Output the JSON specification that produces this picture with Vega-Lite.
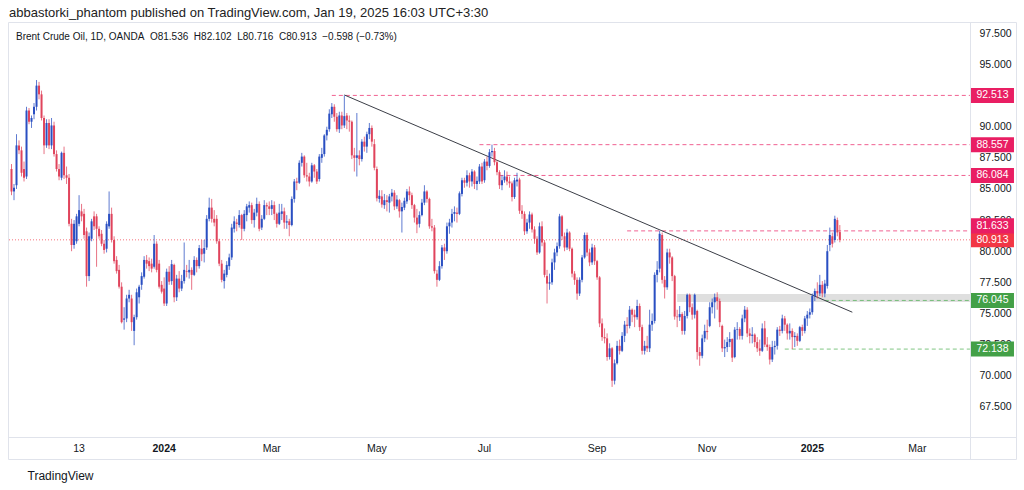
{
"$schema": "https://vega.github.io/schema/vega-lite/v6.json",
"width": 1008, "height": 437,
"autosize": "none",
"padding": {"left": 8, "top": 22, "right": 8, "bottom": 31},
"background": "#ffffff",
"title": {"text": "abbastorki_phantom published on TradingView.com, Jan 19, 2025 16:03 UTC+3:30", "subtitle": "\u2800Brent Crude Oil, 1D, OANDA\u00a0\u00a0O81.536\u00a0\u00a0H82.102\u00a0\u00a0L80.716\u00a0\u00a0C80.913\u00a0\u00a0\u22120.598 (\u22120.73%)", "anchor": "start", "frame": "group", "offset": -20, "dx": 1, "fontSize": 13, "fontWeight": "normal", "color": "#222222", "font": "Liberation Sans", "subtitleFontSize": 10, "subtitleColor": "#131722", "subtitleFont": "Liberation Sans", "subtitlePadding": 12},
"config": {"view": {"stroke": "#e0e3eb", "strokeWidth": 1}, "axis": {"labelFont": "Liberation Sans", "titleFont": "Liberation Sans", "labelOverlap": false}},
"datasets": {
"zone": [{"d0": "2024-10-16", "d1": "2025-04-01", "p": 76.25}],
"trend": [{"d": "2024-04-12", "p": 92.55}, {"d": "2025-01-24", "p": 75.1}],
"levels": [
{"p": 92.513, "d0": "2024-04-05", "kind": "res"},
{"p": 88.557, "d0": "2024-06-27", "kind": "res"},
{"p": 86.084, "d0": "2024-07-09", "kind": "res"},
{"p": 81.633, "d0": "2024-09-18", "kind": "res"},
{"p": 80.913, "d0": "2023-10-04", "kind": "last"},
{"p": 76.045, "d0": "2025-01-09", "kind": "sup"},
{"p": 72.138, "d0": "2024-12-16", "kind": "sup"}
],
"bars": [
{"d":"2023-10-05","o":86.6,"h":87.0,"l":84.5,"c":84.8},
{"d":"2023-10-06","o":84.8,"h":85.4,"l":84.1,"c":85.1},
{"d":"2023-10-09","o":85.3,"h":89.4,"l":85.0,"c":88.5},
{"d":"2023-10-10","o":88.5,"h":88.9,"l":87.8,"c":88.1},
{"d":"2023-10-11","o":88.1,"h":88.4,"l":86.0,"c":86.3},
{"d":"2023-10-12","o":86.6,"h":87.2,"l":85.6,"c":85.9},
{"d":"2023-10-13","o":86.0,"h":91.6,"l":85.8,"c":91.3},
{"d":"2023-10-16","o":91.3,"h":91.5,"l":90.2,"c":90.4},
{"d":"2023-10-17","o":90.4,"h":90.9,"l":89.9,"c":90.7},
{"d":"2023-10-18","o":91.0,"h":91.9,"l":90.6,"c":91.6},
{"d":"2023-10-19","o":91.6,"h":93.75,"l":91.3,"c":93.3},
{"d":"2023-10-20","o":93.3,"h":93.6,"l":92.2,"c":92.6},
{"d":"2023-10-23","o":92.6,"h":92.9,"l":90.5,"c":90.7},
{"d":"2023-10-24","o":90.7,"h":90.9,"l":87.8,"c":88.5},
{"d":"2023-10-25","o":88.5,"h":90.6,"l":88.3,"c":90.3},
{"d":"2023-10-26","o":90.3,"h":90.6,"l":88.2,"c":88.5},
{"d":"2023-10-27","o":88.5,"h":90.7,"l":88.2,"c":90.1},
{"d":"2023-10-30","o":90.1,"h":90.4,"l":87.6,"c":87.8},
{"d":"2023-10-31","o":87.8,"h":88.1,"l":86.4,"c":86.6},
{"d":"2023-11-01","o":86.6,"h":87.0,"l":85.7,"c":86.0},
{"d":"2023-11-02","o":85.9,"h":88.0,"l":85.7,"c":87.9},
{"d":"2023-11-03","o":87.9,"h":88.4,"l":85.8,"c":86.1},
{"d":"2023-11-06","o":86.1,"h":86.8,"l":85.4,"c":85.9},
{"d":"2023-11-07","o":85.9,"h":86.2,"l":82.0,"c":82.2},
{"d":"2023-11-08","o":82.2,"h":82.6,"l":80.0,"c":80.5},
{"d":"2023-11-09","o":80.5,"h":82.5,"l":80.2,"c":82.2},
{"d":"2023-11-10","o":80.8,"h":83.0,"l":80.6,"c":82.8},
{"d":"2023-11-13","o":82.2,"h":84.5,"l":82.0,"c":83.3},
{"d":"2023-11-14","o":83.2,"h":83.8,"l":82.4,"c":82.8},
{"d":"2023-11-15","o":83.0,"h":83.4,"l":81.0,"c":81.3},
{"d":"2023-11-16","o":81.6,"h":81.9,"l":77.15,"c":78.0},
{"d":"2023-11-17","o":78.0,"h":81.5,"l":77.6,"c":81.2},
{"d":"2023-11-20","o":81.0,"h":82.6,"l":80.8,"c":82.4},
{"d":"2023-11-21","o":82.8,"h":83.2,"l":81.7,"c":82.0},
{"d":"2023-11-22","o":82.8,"h":83.0,"l":78.75,"c":81.8},
{"d":"2023-11-23","o":81.8,"h":82.0,"l":81.0,"c":81.2},
{"d":"2023-11-24","o":81.4,"h":81.7,"l":80.4,"c":80.6},
{"d":"2023-11-27","o":80.6,"h":80.9,"l":79.8,"c":80.1},
{"d":"2023-11-28","o":80.2,"h":82.4,"l":79.9,"c":82.2},
{"d":"2023-11-29","o":82.0,"h":84.8,"l":81.8,"c":83.0},
{"d":"2023-11-30","o":83.0,"h":83.5,"l":80.7,"c":80.9},
{"d":"2023-12-01","o":80.9,"h":81.2,"l":79.0,"c":79.2},
{"d":"2023-12-04","o":79.3,"h":79.6,"l":78.2,"c":78.4},
{"d":"2023-12-05","o":78.5,"h":78.9,"l":77.0,"c":77.15},
{"d":"2023-12-06","o":77.15,"h":77.5,"l":74.2,"c":74.3},
{"d":"2023-12-07","o":74.5,"h":75.5,"l":73.7,"c":74.6},
{"d":"2023-12-08","o":74.6,"h":76.5,"l":74.3,"c":76.2},
{"d":"2023-12-11","o":76.2,"h":76.9,"l":75.9,"c":76.5},
{"d":"2023-12-12","o":76.2,"h":76.5,"l":73.6,"c":74.3},
{"d":"2023-12-13","o":73.6,"h":74.9,"l":72.45,"c":74.7},
{"d":"2023-12-14","o":74.7,"h":77.0,"l":74.5,"c":76.7},
{"d":"2023-12-15","o":76.3,"h":77.3,"l":75.8,"c":77.15},
{"d":"2023-12-18","o":77.3,"h":78.3,"l":76.9,"c":78.0},
{"d":"2023-12-19","o":77.95,"h":79.6,"l":77.8,"c":79.3},
{"d":"2023-12-20","o":79.3,"h":79.7,"l":78.6,"c":79.0},
{"d":"2023-12-21","o":79.2,"h":79.5,"l":78.4,"c":78.8},
{"d":"2023-12-22","o":79.0,"h":79.4,"l":78.3,"c":78.6},
{"d":"2023-12-26","o":78.75,"h":81.3,"l":78.6,"c":80.6},
{"d":"2023-12-27","o":80.6,"h":80.8,"l":78.3,"c":78.5},
{"d":"2023-12-28","o":79.0,"h":79.3,"l":77.0,"c":77.15},
{"d":"2023-12-29","o":77.3,"h":77.6,"l":76.6,"c":76.75},
{"d":"2024-01-02","o":77.0,"h":77.9,"l":75.6,"c":75.8},
{"d":"2024-01-03","o":75.8,"h":78.6,"l":75.6,"c":78.35},
{"d":"2024-01-04","o":78.35,"h":78.8,"l":77.3,"c":77.55},
{"d":"2024-01-05","o":77.6,"h":79.3,"l":77.3,"c":78.96},
{"d":"2024-01-08","o":78.9,"h":79.0,"l":75.9,"c":76.3},
{"d":"2024-01-09","o":76.3,"h":78.1,"l":76.0,"c":77.8},
{"d":"2024-01-10","o":77.8,"h":78.4,"l":76.7,"c":77.0},
{"d":"2024-01-11","o":77.0,"h":78.1,"l":76.8,"c":77.6},
{"d":"2024-01-12","o":77.6,"h":80.7,"l":77.4,"c":78.5},
{"d":"2024-01-15","o":78.4,"h":78.9,"l":77.9,"c":78.35},
{"d":"2024-01-16","o":78.3,"h":79.3,"l":77.8,"c":78.5},
{"d":"2024-01-17","o":78.5,"h":78.7,"l":76.9,"c":78.1},
{"d":"2024-01-18","o":78.1,"h":79.6,"l":78.0,"c":79.3},
{"d":"2024-01-19","o":79.3,"h":79.5,"l":78.3,"c":78.8},
{"d":"2024-01-22","o":78.8,"h":80.5,"l":78.6,"c":80.25},
{"d":"2024-01-23","o":80.2,"h":80.9,"l":79.2,"c":79.75},
{"d":"2024-01-24","o":79.8,"h":80.9,"l":79.1,"c":80.25},
{"d":"2024-01-25","o":80.3,"h":82.9,"l":80.1,"c":82.6},
{"d":"2024-01-26","o":82.6,"h":84.3,"l":82.4,"c":83.5},
{"d":"2024-01-29","o":83.5,"h":84.2,"l":82.3,"c":82.6},
{"d":"2024-01-30","o":82.6,"h":83.3,"l":82.0,"c":82.3},
{"d":"2024-01-31","o":82.6,"h":82.9,"l":80.6,"c":80.8},
{"d":"2024-02-01","o":80.8,"h":81.0,"l":78.8,"c":79.0},
{"d":"2024-02-02","o":79.0,"h":79.3,"l":77.5,"c":77.7},
{"d":"2024-02-05","o":77.6,"h":78.5,"l":77.0,"c":78.2},
{"d":"2024-02-06","o":78.1,"h":79.2,"l":77.9,"c":78.9},
{"d":"2024-02-07","o":78.8,"h":79.8,"l":78.5,"c":79.5},
{"d":"2024-02-08","o":79.5,"h":82.2,"l":79.3,"c":81.9},
{"d":"2024-02-09","o":81.8,"h":82.8,"l":81.5,"c":82.4},
{"d":"2024-02-12","o":82.3,"h":82.6,"l":81.6,"c":82.2},
{"d":"2024-02-13","o":82.1,"h":83.3,"l":81.9,"c":82.9},
{"d":"2024-02-14","o":82.9,"h":83.0,"l":80.9,"c":81.8},
{"d":"2024-02-15","o":81.8,"h":83.3,"l":81.6,"c":83.0},
{"d":"2024-02-16","o":82.9,"h":83.8,"l":82.4,"c":83.6},
{"d":"2024-02-19","o":83.5,"h":84.0,"l":83.1,"c":83.7},
{"d":"2024-02-20","o":83.7,"h":83.9,"l":82.2,"c":82.5},
{"d":"2024-02-21","o":82.5,"h":83.4,"l":81.9,"c":83.1},
{"d":"2024-02-22","o":83.1,"h":84.3,"l":82.8,"c":83.8},
{"d":"2024-02-23","o":83.8,"h":84.0,"l":81.6,"c":81.8},
{"d":"2024-02-26","o":81.9,"h":82.9,"l":81.7,"c":82.6},
{"d":"2024-02-27","o":82.6,"h":84.1,"l":82.5,"c":83.7},
{"d":"2024-02-28","o":83.7,"h":83.9,"l":82.9,"c":83.6},
{"d":"2024-02-29","o":83.6,"h":84.0,"l":82.9,"c":83.4},
{"d":"2024-03-01","o":83.4,"h":84.1,"l":82.9,"c":83.7},
{"d":"2024-03-04","o":83.7,"h":84.0,"l":82.5,"c":83.0},
{"d":"2024-03-05","o":83.0,"h":83.1,"l":81.9,"c":82.2},
{"d":"2024-03-06","o":82.2,"h":83.8,"l":82.1,"c":83.1},
{"d":"2024-03-07","o":83.0,"h":83.8,"l":82.5,"c":83.2},
{"d":"2024-03-08","o":83.2,"h":83.5,"l":81.8,"c":82.3},
{"d":"2024-03-11","o":82.3,"h":82.9,"l":81.8,"c":82.4},
{"d":"2024-03-12","o":82.4,"h":82.6,"l":81.2,"c":82.1},
{"d":"2024-03-13","o":82.1,"h":84.4,"l":82.0,"c":84.2},
{"d":"2024-03-14","o":84.2,"h":85.8,"l":83.9,"c":85.6},
{"d":"2024-03-15","o":85.6,"h":85.9,"l":84.9,"c":85.5},
{"d":"2024-03-18","o":85.5,"h":87.3,"l":85.4,"c":87.1},
{"d":"2024-03-19","o":87.1,"h":87.9,"l":86.8,"c":87.6},
{"d":"2024-03-20","o":87.6,"h":87.7,"l":85.9,"c":86.1},
{"d":"2024-03-21","o":86.1,"h":87.1,"l":85.6,"c":86.0},
{"d":"2024-03-22","o":86.0,"h":86.3,"l":85.2,"c":85.6},
{"d":"2024-03-25","o":85.6,"h":87.1,"l":85.5,"c":86.9},
{"d":"2024-03-26","o":86.9,"h":87.0,"l":85.9,"c":86.4},
{"d":"2024-03-27","o":86.4,"h":86.6,"l":85.4,"c":85.6},
{"d":"2024-03-28","o":85.8,"h":87.8,"l":85.6,"c":87.6},
{"d":"2024-04-01","o":87.5,"h":88.3,"l":87.1,"c":87.8},
{"d":"2024-04-02","o":87.8,"h":89.4,"l":87.6,"c":89.3},
{"d":"2024-04-03","o":89.3,"h":90.0,"l":88.9,"c":89.75},
{"d":"2024-04-04","o":89.8,"h":91.4,"l":89.6,"c":91.05},
{"d":"2024-04-05","o":91.0,"h":91.9,"l":90.7,"c":91.6},
{"d":"2024-04-08","o":91.6,"h":91.8,"l":90.4,"c":90.8},
{"d":"2024-04-09","o":90.8,"h":91.1,"l":89.6,"c":89.8},
{"d":"2024-04-10","o":89.8,"h":91.2,"l":89.5,"c":90.9},
{"d":"2024-04-11","o":90.9,"h":91.2,"l":89.8,"c":90.1},
{"d":"2024-04-12","o":90.1,"h":92.513,"l":89.9,"c":90.85},
{"d":"2024-04-15","o":90.9,"h":91.1,"l":89.8,"c":90.5},
{"d":"2024-04-16","o":90.5,"h":90.9,"l":89.6,"c":90.4},
{"d":"2024-04-17","o":90.4,"h":90.5,"l":87.4,"c":87.7},
{"d":"2024-04-18","o":87.7,"h":88.3,"l":86.4,"c":87.5},
{"d":"2024-04-19","o":87.5,"h":91.1,"l":86.0,"c":87.7},
{"d":"2024-04-22","o":87.7,"h":88.1,"l":86.9,"c":87.4},
{"d":"2024-04-23","o":87.4,"h":89.0,"l":87.2,"c":88.8},
{"d":"2024-04-24","o":88.8,"h":89.2,"l":88.0,"c":88.4},
{"d":"2024-04-25","o":88.4,"h":89.6,"l":87.9,"c":89.4},
{"d":"2024-04-26","o":89.4,"h":90.3,"l":89.0,"c":89.9},
{"d":"2024-04-29","o":89.9,"h":90.1,"l":88.4,"c":88.8},
{"d":"2024-04-30","o":88.6,"h":89.0,"l":86.5,"c":86.7},
{"d":"2024-05-01","o":86.6,"h":86.8,"l":84.0,"c":84.25},
{"d":"2024-05-02","o":84.2,"h":84.9,"l":83.9,"c":84.45},
{"d":"2024-05-03","o":84.4,"h":84.9,"l":83.5,"c":83.75},
{"d":"2024-05-06","o":83.7,"h":84.6,"l":83.4,"c":84.1},
{"d":"2024-05-07","o":84.1,"h":84.5,"l":83.2,"c":83.95},
{"d":"2024-05-08","o":83.9,"h":84.6,"l":83.1,"c":84.4},
{"d":"2024-05-09","o":84.4,"h":85.0,"l":84.0,"c":84.7},
{"d":"2024-05-10","o":84.7,"h":84.9,"l":83.3,"c":83.6},
{"d":"2024-05-13","o":83.6,"h":84.5,"l":83.4,"c":84.15},
{"d":"2024-05-14","o":84.1,"h":84.2,"l":82.7,"c":83.2},
{"d":"2024-05-15","o":83.2,"h":83.9,"l":81.5,"c":83.55},
{"d":"2024-05-16","o":83.5,"h":84.3,"l":83.3,"c":84.05},
{"d":"2024-05-17","o":84.0,"h":85.0,"l":83.8,"c":84.8},
{"d":"2024-05-20","o":84.8,"h":85.2,"l":84.1,"c":84.5},
{"d":"2024-05-21","o":84.5,"h":84.7,"l":83.4,"c":83.7},
{"d":"2024-05-22","o":83.7,"h":83.8,"l":82.3,"c":82.7},
{"d":"2024-05-23","o":82.7,"h":83.4,"l":81.45,"c":82.15},
{"d":"2024-05-24","o":82.2,"h":83.2,"l":81.9,"c":82.9},
{"d":"2024-05-27","o":82.9,"h":84.2,"l":82.8,"c":83.9},
{"d":"2024-05-28","o":83.9,"h":85.3,"l":83.7,"c":84.8},
{"d":"2024-05-29","o":84.8,"h":84.9,"l":83.9,"c":84.2},
{"d":"2024-05-30","o":84.2,"h":84.3,"l":81.8,"c":82.0},
{"d":"2024-05-31","o":82.0,"h":82.6,"l":81.6,"c":81.9},
{"d":"2024-06-03","o":81.9,"h":82.1,"l":78.2,"c":78.4},
{"d":"2024-06-04","o":78.2,"h":78.5,"l":77.15,"c":77.7},
{"d":"2024-06-05","o":77.7,"h":79.2,"l":77.6,"c":78.8},
{"d":"2024-06-06","o":78.8,"h":80.5,"l":78.6,"c":80.3},
{"d":"2024-06-07","o":80.3,"h":80.6,"l":79.3,"c":80.0},
{"d":"2024-06-10","o":80.0,"h":82.3,"l":79.8,"c":82.0},
{"d":"2024-06-11","o":82.0,"h":82.6,"l":81.4,"c":82.3},
{"d":"2024-06-12","o":82.3,"h":83.4,"l":81.9,"c":83.0},
{"d":"2024-06-13","o":83.0,"h":83.6,"l":82.4,"c":83.15},
{"d":"2024-06-14","o":83.1,"h":83.5,"l":82.3,"c":83.0},
{"d":"2024-06-17","o":83.0,"h":84.8,"l":82.9,"c":84.65},
{"d":"2024-06-18","o":84.6,"h":85.9,"l":84.4,"c":85.7},
{"d":"2024-06-19","o":85.7,"h":85.9,"l":85.1,"c":85.5},
{"d":"2024-06-20","o":85.5,"h":86.5,"l":85.2,"c":86.1},
{"d":"2024-06-21","o":86.1,"h":86.3,"l":85.1,"c":85.6},
{"d":"2024-06-24","o":85.6,"h":86.6,"l":85.2,"c":86.4},
{"d":"2024-06-25","o":86.4,"h":86.5,"l":85.0,"c":85.4},
{"d":"2024-06-26","o":85.4,"h":86.0,"l":84.9,"c":85.65},
{"d":"2024-06-27","o":85.6,"h":87.0,"l":85.4,"c":86.8},
{"d":"2024-06-28","o":86.8,"h":87.1,"l":85.4,"c":85.6},
{"d":"2024-07-01","o":85.7,"h":87.4,"l":85.5,"c":87.2},
{"d":"2024-07-02","o":87.2,"h":87.6,"l":86.5,"c":86.85},
{"d":"2024-07-03","o":86.85,"h":88.2,"l":86.7,"c":87.95},
{"d":"2024-07-04","o":87.95,"h":88.557,"l":87.6,"c":88.05},
{"d":"2024-07-05","o":88.05,"h":88.3,"l":86.9,"c":87.15},
{"d":"2024-07-08","o":87.15,"h":87.3,"l":86.1,"c":86.35},
{"d":"2024-07-09","o":86.35,"h":86.5,"l":85.0,"c":85.3},
{"d":"2024-07-10","o":85.3,"h":86.1,"l":84.9,"c":85.7},
{"d":"2024-07-11","o":85.7,"h":86.5,"l":85.5,"c":86.0},
{"d":"2024-07-12","o":86.0,"h":86.4,"l":85.3,"c":85.6},
{"d":"2024-07-15","o":85.6,"h":86.0,"l":85.1,"c":85.45},
{"d":"2024-07-16","o":85.45,"h":85.6,"l":84.0,"c":84.35},
{"d":"2024-07-17","o":84.35,"h":85.9,"l":84.2,"c":85.7},
{"d":"2024-07-18","o":85.6,"h":86.3,"l":85.2,"c":85.75},
{"d":"2024-07-19","o":85.75,"h":85.9,"l":83.0,"c":83.25},
{"d":"2024-07-22","o":83.25,"h":83.7,"l":82.6,"c":83.0},
{"d":"2024-07-23","o":83.0,"h":83.2,"l":81.3,"c":81.6},
{"d":"2024-07-24","o":81.6,"h":82.6,"l":81.4,"c":82.3},
{"d":"2024-07-25","o":82.3,"h":83.2,"l":81.8,"c":82.95},
{"d":"2024-07-26","o":82.95,"h":83.1,"l":81.5,"c":81.75},
{"d":"2024-07-29","o":81.75,"h":82.0,"l":80.6,"c":81.0},
{"d":"2024-07-30","o":81.0,"h":81.2,"l":79.7,"c":79.9},
{"d":"2024-07-31","o":79.9,"h":82.3,"l":79.8,"c":82.0},
{"d":"2024-08-01","o":82.0,"h":82.4,"l":80.4,"c":80.7},
{"d":"2024-08-02","o":80.7,"h":80.9,"l":77.9,"c":78.1},
{"d":"2024-08-05","o":78.0,"h":78.5,"l":75.8,"c":77.4},
{"d":"2024-08-06","o":77.4,"h":78.2,"l":76.9,"c":77.5},
{"d":"2024-08-07","o":77.5,"h":79.4,"l":77.3,"c":79.1},
{"d":"2024-08-08","o":79.1,"h":80.2,"l":78.5,"c":79.9},
{"d":"2024-08-09","o":79.9,"h":80.7,"l":79.6,"c":80.4},
{"d":"2024-08-12","o":80.4,"h":83.0,"l":80.2,"c":82.8},
{"d":"2024-08-13","o":82.8,"h":82.9,"l":80.9,"c":81.2},
{"d":"2024-08-14","o":81.2,"h":81.5,"l":80.0,"c":80.3},
{"d":"2024-08-15","o":80.3,"h":81.8,"l":80.1,"c":81.5},
{"d":"2024-08-16","o":81.5,"h":81.6,"l":80.0,"c":80.2},
{"d":"2024-08-19","o":80.2,"h":80.3,"l":77.9,"c":78.2},
{"d":"2024-08-20","o":78.2,"h":78.4,"l":77.3,"c":77.7},
{"d":"2024-08-21","o":77.7,"h":77.9,"l":76.1,"c":76.6},
{"d":"2024-08-22","o":76.6,"h":77.9,"l":76.4,"c":77.7},
{"d":"2024-08-23","o":77.7,"h":79.7,"l":77.5,"c":79.5},
{"d":"2024-08-26","o":79.5,"h":81.5,"l":79.4,"c":81.3},
{"d":"2024-08-27","o":81.3,"h":81.5,"l":79.6,"c":79.9},
{"d":"2024-08-28","o":79.9,"h":80.2,"l":78.8,"c":79.1},
{"d":"2024-08-29","o":79.1,"h":80.6,"l":78.9,"c":80.3},
{"d":"2024-08-30","o":80.3,"h":80.5,"l":78.9,"c":79.2},
{"d":"2024-09-02","o":79.2,"h":79.3,"l":77.7,"c":77.9},
{"d":"2024-09-03","o":77.9,"h":78.0,"l":73.9,"c":74.2},
{"d":"2024-09-04","o":74.2,"h":74.6,"l":72.8,"c":73.1},
{"d":"2024-09-05","o":73.1,"h":73.8,"l":72.6,"c":73.0},
{"d":"2024-09-06","o":73.0,"h":73.4,"l":71.2,"c":71.5},
{"d":"2024-09-09","o":71.5,"h":72.6,"l":71.3,"c":72.2},
{"d":"2024-09-10","o":72.2,"h":72.3,"l":69.1,"c":69.6},
{"d":"2024-09-11","o":69.6,"h":71.3,"l":69.3,"c":71.0},
{"d":"2024-09-12","o":71.0,"h":72.8,"l":70.9,"c":72.4},
{"d":"2024-09-13","o":72.4,"h":72.9,"l":71.7,"c":72.0},
{"d":"2024-09-16","o":72.0,"h":73.5,"l":71.9,"c":73.2},
{"d":"2024-09-17","o":73.2,"h":74.4,"l":72.7,"c":74.1},
{"d":"2024-09-18","o":74.1,"h":74.7,"l":73.4,"c":74.0},
{"d":"2024-09-19","o":74.0,"h":75.6,"l":73.8,"c":75.3},
{"d":"2024-09-20","o":75.3,"h":75.4,"l":74.3,"c":74.9},
{"d":"2024-09-23","o":74.9,"h":75.3,"l":73.9,"c":74.7},
{"d":"2024-09-24","o":74.7,"h":76.1,"l":74.5,"c":75.6},
{"d":"2024-09-25","o":75.6,"h":75.8,"l":73.6,"c":73.9},
{"d":"2024-09-26","o":73.9,"h":74.1,"l":71.7,"c":72.0},
{"d":"2024-09-27","o":72.0,"h":72.8,"l":71.7,"c":72.4},
{"d":"2024-09-30","o":72.4,"h":73.2,"l":71.9,"c":72.2},
{"d":"2024-10-01","o":72.2,"h":75.3,"l":71.9,"c":74.1},
{"d":"2024-10-02","o":74.1,"h":75.0,"l":73.6,"c":74.4},
{"d":"2024-10-03","o":74.4,"h":78.3,"l":74.2,"c":78.1},
{"d":"2024-10-04","o":78.1,"h":79.2,"l":77.5,"c":78.5},
{"d":"2024-10-07","o":78.6,"h":81.633,"l":78.3,"c":81.4},
{"d":"2024-10-08","o":81.3,"h":81.5,"l":77.4,"c":77.7},
{"d":"2024-10-09","o":77.7,"h":78.0,"l":76.2,"c":77.1},
{"d":"2024-10-10","o":77.1,"h":80.2,"l":76.9,"c":79.9},
{"d":"2024-10-11","o":79.9,"h":80.2,"l":79.0,"c":79.5},
{"d":"2024-10-14","o":79.5,"h":79.6,"l":77.6,"c":78.0},
{"d":"2024-10-15","o":78.0,"h":78.1,"l":74.5,"c":74.75},
{"d":"2024-10-16","o":74.75,"h":75.3,"l":73.9,"c":74.7},
{"d":"2024-10-17","o":74.7,"h":75.6,"l":74.4,"c":74.95},
{"d":"2024-10-18","o":74.95,"h":75.1,"l":73.3,"c":73.6},
{"d":"2024-10-21","o":73.6,"h":75.2,"l":73.3,"c":74.8},
{"d":"2024-10-22","o":74.8,"h":76.6,"l":74.6,"c":76.5},
{"d":"2024-10-23","o":76.5,"h":76.6,"l":75.1,"c":75.5},
{"d":"2024-10-24","o":75.5,"h":75.8,"l":74.5,"c":74.9},
{"d":"2024-10-25","o":74.9,"h":76.6,"l":74.6,"c":76.5},
{"d":"2024-10-28","o":75.2,"h":75.3,"l":71.3,"c":71.9},
{"d":"2024-10-29","o":71.9,"h":72.3,"l":70.8,"c":71.6},
{"d":"2024-10-30","o":71.6,"h":73.3,"l":71.4,"c":73.0},
{"d":"2024-10-31","o":73.0,"h":74.1,"l":72.7,"c":73.6},
{"d":"2024-11-01","o":73.6,"h":74.5,"l":72.9,"c":73.5},
{"d":"2024-11-04","o":74.0,"h":75.9,"l":73.9,"c":75.5},
{"d":"2024-11-05","o":75.5,"h":76.2,"l":75.0,"c":75.9},
{"d":"2024-11-06","o":75.9,"h":76.6,"l":74.6,"c":76.3},
{"d":"2024-11-07","o":76.3,"h":76.7,"l":75.3,"c":76.0},
{"d":"2024-11-08","o":76.0,"h":76.2,"l":73.9,"c":74.3},
{"d":"2024-11-11","o":74.0,"h":74.1,"l":71.9,"c":72.2},
{"d":"2024-11-12","o":72.2,"h":72.9,"l":71.5,"c":72.3},
{"d":"2024-11-13","o":72.3,"h":73.1,"l":71.9,"c":72.7},
{"d":"2024-11-14","o":72.7,"h":73.5,"l":72.3,"c":72.95},
{"d":"2024-11-15","o":72.95,"h":73.0,"l":71.1,"c":71.45},
{"d":"2024-11-18","o":71.5,"h":73.9,"l":71.4,"c":73.7},
{"d":"2024-11-19","o":73.7,"h":74.3,"l":72.9,"c":73.75},
{"d":"2024-11-20","o":73.75,"h":73.9,"l":72.9,"c":73.2},
{"d":"2024-11-21","o":73.2,"h":74.9,"l":72.9,"c":74.6},
{"d":"2024-11-22","o":74.6,"h":75.6,"l":74.3,"c":75.3},
{"d":"2024-11-25","o":75.3,"h":75.5,"l":73.1,"c":73.4},
{"d":"2024-11-26","o":73.4,"h":73.8,"l":72.6,"c":73.2},
{"d":"2024-11-27","o":73.2,"h":73.9,"l":72.6,"c":73.3},
{"d":"2024-11-28","o":73.3,"h":73.4,"l":72.3,"c":72.7},
{"d":"2024-11-29","o":72.7,"h":73.1,"l":71.9,"c":72.2},
{"d":"2024-12-02","o":72.2,"h":72.9,"l":71.6,"c":72.0},
{"d":"2024-12-03","o":72.0,"h":74.2,"l":71.9,"c":73.8},
{"d":"2024-12-04","o":73.8,"h":74.4,"l":72.3,"c":72.5},
{"d":"2024-12-05","o":72.5,"h":73.1,"l":72.0,"c":72.3},
{"d":"2024-12-06","o":72.3,"h":72.5,"l":70.9,"c":71.3},
{"d":"2024-12-09","o":71.3,"h":72.8,"l":71.1,"c":72.3},
{"d":"2024-12-10","o":72.3,"h":72.8,"l":71.7,"c":72.4},
{"d":"2024-12-11","o":72.4,"h":73.9,"l":72.1,"c":73.7},
{"d":"2024-12-12","o":73.7,"h":74.0,"l":73.2,"c":73.6},
{"d":"2024-12-13","o":73.6,"h":74.9,"l":73.4,"c":74.6},
{"d":"2024-12-16","o":74.6,"h":74.8,"l":73.6,"c":74.1},
{"d":"2024-12-17","o":74.1,"h":74.2,"l":72.9,"c":73.4},
{"d":"2024-12-18","o":73.4,"h":74.2,"l":72.9,"c":73.6},
{"d":"2024-12-19","o":73.6,"h":73.8,"l":72.138,"c":73.1},
{"d":"2024-12-20","o":73.1,"h":73.5,"l":72.3,"c":73.2},
{"d":"2024-12-23","o":73.2,"h":73.4,"l":72.4,"c":72.8},
{"d":"2024-12-24","o":72.8,"h":74.0,"l":72.7,"c":73.9},
{"d":"2024-12-26","o":73.9,"h":74.1,"l":73.2,"c":73.6},
{"d":"2024-12-27","o":73.6,"h":74.8,"l":73.4,"c":74.6},
{"d":"2024-12-30","o":74.6,"h":75.2,"l":74.0,"c":74.9},
{"d":"2024-12-31","o":74.9,"h":75.4,"l":74.6,"c":75.1},
{"d":"2025-01-02","o":75.1,"h":76.6,"l":74.9,"c":76.4},
{"d":"2025-01-03","o":76.4,"h":77.0,"l":76.0,"c":76.8},
{"d":"2025-01-06","o":76.8,"h":77.5,"l":76.2,"c":76.6},
{"d":"2025-01-07","o":76.6,"h":78.1,"l":76.4,"c":77.3},
{"d":"2025-01-08","o":77.3,"h":77.6,"l":76.3,"c":76.6},
{"d":"2025-01-09","o":76.6,"h":77.7,"l":76.3,"c":77.4},
{"d":"2025-01-10","o":77.2,"h":80.5,"l":77.0,"c":80.0},
{"d":"2025-01-13","o":80.5,"h":81.9,"l":80.0,"c":81.3},
{"d":"2025-01-14","o":81.2,"h":81.5,"l":80.3,"c":80.6},
{"d":"2025-01-15","o":80.9,"h":82.85,"l":80.7,"c":82.6},
{"d":"2025-01-16","o":82.5,"h":82.7,"l":81.2,"c":81.511},
{"d":"2025-01-17","o":81.536,"h":82.102,"l":80.716,"c":80.913}
]
},
"layer": [
{
"data": {"name": "zone"},
"mark": {"type": "rule", "strokeWidth": 8, "color": "#d4d4d4", "opacity": 0.75},
"encoding": {
"x": {"field": "d0", "type": "ordinal",
"scale": {"type": "band", "paddingInner": 0.2, "paddingOuter": 0, "domain": ["2023-10-04","2023-10-05","2023-10-06","2023-10-09","2023-10-10","2023-10-11","2023-10-12","2023-10-13","2023-10-16","2023-10-17","2023-10-18","2023-10-19","2023-10-20","2023-10-23","2023-10-24","2023-10-25","2023-10-26","2023-10-27","2023-10-30","2023-10-31","2023-11-01","2023-11-02","2023-11-03","2023-11-06","2023-11-07","2023-11-08","2023-11-09","2023-11-10","2023-11-13","2023-11-14","2023-11-15","2023-11-16","2023-11-17","2023-11-20","2023-11-21","2023-11-22","2023-11-23","2023-11-24","2023-11-27","2023-11-28","2023-11-29","2023-11-30","2023-12-01","2023-12-04","2023-12-05","2023-12-06","2023-12-07","2023-12-08","2023-12-11","2023-12-12","2023-12-13","2023-12-14","2023-12-15","2023-12-18","2023-12-19","2023-12-20","2023-12-21","2023-12-22","2023-12-26","2023-12-27","2023-12-28","2023-12-29","2024-01-02","2024-01-03","2024-01-04","2024-01-05","2024-01-08","2024-01-09","2024-01-10","2024-01-11","2024-01-12","2024-01-15","2024-01-16","2024-01-17","2024-01-18","2024-01-19","2024-01-22","2024-01-23","2024-01-24","2024-01-25","2024-01-26","2024-01-29","2024-01-30","2024-01-31","2024-02-01","2024-02-02","2024-02-05","2024-02-06","2024-02-07","2024-02-08","2024-02-09","2024-02-12","2024-02-13","2024-02-14","2024-02-15","2024-02-16","2024-02-19","2024-02-20","2024-02-21","2024-02-22","2024-02-23","2024-02-26","2024-02-27","2024-02-28","2024-02-29","2024-03-01","2024-03-04","2024-03-05","2024-03-06","2024-03-07","2024-03-08","2024-03-11","2024-03-12","2024-03-13","2024-03-14","2024-03-15","2024-03-18","2024-03-19","2024-03-20","2024-03-21","2024-03-22","2024-03-25","2024-03-26","2024-03-27","2024-03-28","2024-04-01","2024-04-02","2024-04-03","2024-04-04","2024-04-05","2024-04-08","2024-04-09","2024-04-10","2024-04-11","2024-04-12","2024-04-15","2024-04-16","2024-04-17","2024-04-18","2024-04-19","2024-04-22","2024-04-23","2024-04-24","2024-04-25","2024-04-26","2024-04-29","2024-04-30","2024-05-01","2024-05-02","2024-05-03","2024-05-06","2024-05-07","2024-05-08","2024-05-09","2024-05-10","2024-05-13","2024-05-14","2024-05-15","2024-05-16","2024-05-17","2024-05-20","2024-05-21","2024-05-22","2024-05-23","2024-05-24","2024-05-27","2024-05-28","2024-05-29","2024-05-30","2024-05-31","2024-06-03","2024-06-04","2024-06-05","2024-06-06","2024-06-07","2024-06-10","2024-06-11","2024-06-12","2024-06-13","2024-06-14","2024-06-17","2024-06-18","2024-06-19","2024-06-20","2024-06-21","2024-06-24","2024-06-25","2024-06-26","2024-06-27","2024-06-28","2024-07-01","2024-07-02","2024-07-03","2024-07-04","2024-07-05","2024-07-08","2024-07-09","2024-07-10","2024-07-11","2024-07-12","2024-07-15","2024-07-16","2024-07-17","2024-07-18","2024-07-19","2024-07-22","2024-07-23","2024-07-24","2024-07-25","2024-07-26","2024-07-29","2024-07-30","2024-07-31","2024-08-01","2024-08-02","2024-08-05","2024-08-06","2024-08-07","2024-08-08","2024-08-09","2024-08-12","2024-08-13","2024-08-14","2024-08-15","2024-08-16","2024-08-19","2024-08-20","2024-08-21","2024-08-22","2024-08-23","2024-08-26","2024-08-27","2024-08-28","2024-08-29","2024-08-30","2024-09-02","2024-09-03","2024-09-04","2024-09-05","2024-09-06","2024-09-09","2024-09-10","2024-09-11","2024-09-12","2024-09-13","2024-09-16","2024-09-17","2024-09-18","2024-09-19","2024-09-20","2024-09-23","2024-09-24","2024-09-25","2024-09-26","2024-09-27","2024-09-30","2024-10-01","2024-10-02","2024-10-03","2024-10-04","2024-10-07","2024-10-08","2024-10-09","2024-10-10","2024-10-11","2024-10-14","2024-10-15","2024-10-16","2024-10-17","2024-10-18","2024-10-21","2024-10-22","2024-10-23","2024-10-24","2024-10-25","2024-10-28","2024-10-29","2024-10-30","2024-10-31","2024-11-01","2024-11-04","2024-11-05","2024-11-06","2024-11-07","2024-11-08","2024-11-11","2024-11-12","2024-11-13","2024-11-14","2024-11-15","2024-11-18","2024-11-19","2024-11-20","2024-11-21","2024-11-22","2024-11-25","2024-11-26","2024-11-27","2024-11-28","2024-11-29","2024-12-02","2024-12-03","2024-12-04","2024-12-05","2024-12-06","2024-12-09","2024-12-10","2024-12-11","2024-12-12","2024-12-13","2024-12-16","2024-12-17","2024-12-18","2024-12-19","2024-12-20","2024-12-23","2024-12-24","2024-12-26","2024-12-27","2024-12-30","2024-12-31","2025-01-02","2025-01-03","2025-01-06","2025-01-07","2025-01-08","2025-01-09","2025-01-10","2025-01-13","2025-01-14","2025-01-15","2025-01-16","2025-01-17","2025-01-20","2025-01-21","2025-01-22","2025-01-23","2025-01-24","2025-01-27","2025-01-28","2025-01-29","2025-01-30","2025-01-31","2025-02-03","2025-02-04","2025-02-05","2025-02-06","2025-02-07","2025-02-10","2025-02-11","2025-02-12","2025-02-13","2025-02-14","2025-02-17","2025-02-18","2025-02-19","2025-02-20","2025-02-21","2025-02-24","2025-02-25","2025-02-26","2025-02-27","2025-02-28","2025-03-03","2025-03-04","2025-03-05","2025-03-06","2025-03-07","2025-03-10","2025-03-11","2025-03-12","2025-03-13","2025-03-14","2025-03-17","2025-03-18","2025-03-19","2025-03-20","2025-03-21","2025-03-24","2025-03-25","2025-03-26","2025-03-27","2025-03-28","2025-03-31","2025-04-01","2025-04-02","2025-04-03","2025-04-04","2025-04-07","2025-04-08","2025-04-09","2025-04-10","2025-04-11","2025-04-14","2025-04-15","2025-04-16","2025-04-17","2025-04-18","2025-04-21","2025-04-22","2025-04-23","2025-04-24","2025-04-25"]},
"axis": {"orient": "bottom", "offset": -22, "values": ["2023-11-13","2024-01-02","2024-03-01","2024-05-01","2024-07-01","2024-09-02","2024-11-01","2025-01-02","2025-03-03"],
"labelExpr": "datum.value == '2023-11-13' ? '13' : datum.value == '2024-01-02' ? '2024' : datum.value == '2024-03-01' ? 'Mar' : datum.value == '2024-05-01' ? 'May' : datum.value == '2024-07-01' ? 'Jul' : datum.value == '2024-09-02' ? 'Sep' : datum.value == '2024-11-01' ? 'Nov' : datum.value == '2025-01-02' ? '2025' : 'Mar'",
"labelFontWeight": {"condition": {"test": "datum.value == '2024-01-02' || datum.value == '2025-01-02'", "value": "bold"}, "value": "normal"},
"labelFontSize": 10.5, "labelColor": "#131722", "labelPadding": 6, "labelAngle": 0, "labelOverlap": false,
"ticks": false, "domain": true, "domainColor": "#e0e3eb", "grid": false,
"title": "TradingView", "titleX": 19, "titleY": 38, "titleAlign": "left", "titleAnchor": "start", "titleBaseline": "middle", "titleFontSize": 12, "titleFontWeight": "normal", "titleColor": "#131722"}},
"x2": {"field": "d1"},
"y": {"field": "p", "type": "quantitative", "title": null,
"scale": {"domain": [63.31, 98.41], "nice": false, "zero": false},
"axis": {"orient": "right", "offset": -46, "title": null, "values": [67.5, 70, 72.5, 75, 77.5, 80, 82.5, 85, 87.5, 90, 92.5, 95, 97.5], "tickCount": 30, "format": ".3f", "labelFontSize": 10.5, "labelColor": "#131722", "labelPadding": 9, "labelOverlap": false, "labelFlush": false, "ticks": false, "domain": true, "domainColor": "#e0e3eb", "grid": false}}
}
},
{
"data": {"name": "levels"},
"mark": {"type": "rule", "strokeWidth": 1, "opacity": 0.7},
"encoding": {
"x": {"field": "d0", "type": "ordinal"},
"x2": {"datum": "2025-04-01"},
"y": {"field": "p", "type": "quantitative", "title": null},
"stroke": {"field": "kind", "type": "nominal", "scale": {"domain": ["res", "last", "sup"], "range": ["#e91e63", "#f23645", "#4caf50"]}, "legend": null},
"strokeDash": {"field": "kind", "type": "nominal", "scale": {"domain": ["res", "last", "sup"], "range": [[4, 3], [1, 2], [4, 3]]}, "legend": null}
}
},
{
"data": {"name": "trend"},
"mark": {"type": "line", "color": "#3b3e47", "strokeWidth": 1},
"encoding": {
"x": {"field": "d", "type": "ordinal"},
"y": {"field": "p", "type": "quantitative", "title": null}
}
},
{
"data": {"name": "bars"},
"mark": {"type": "rule", "strokeWidth": 1, "opacity": 0.75},
"encoding": {
"x": {"field": "d", "type": "ordinal"},
"y": {"field": "l", "type": "quantitative", "title": null},
"y2": {"field": "h"},
"color": {"condition": {"test": "datum.c >= datum.o", "value": "#2a4fc2"}, "value": "#e0445c"}
}
},
{
"data": {"name": "bars"},
"mark": {"type": "bar"},
"encoding": {
"x": {"field": "d", "type": "ordinal"},
"y": {"field": "o", "type": "quantitative", "title": null},
"y2": {"field": "c"},
"color": {"condition": {"test": "datum.c >= datum.o", "value": "#2a4fc2"}, "value": "#e0445c"}
}
},
{
"data": {"name": "levels"},
"transform": [{"filter": "datum.p != 81.633"}],
"mark": {"type": "point", "shape": "M-1,-0.35H1V0.35H-1Z", "filled": true, "size": 1849, "opacity": 1, "strokeWidth": 0},
"encoding": {
"x": {"datum": "2025-04-14", "type": "ordinal"},
"y": {"field": "p", "type": "quantitative", "title": null},
"fill": {"field": "kind", "type": "nominal", "scale": {"domain": ["res", "last", "sup"], "range": ["#e91e63", "#f23645", "#43a047"]}, "legend": null}
}
},
{
"data": {"name": "levels"},
"transform": [{"filter": "datum.p == 81.633"}],
"mark": {"type": "point", "shape": "M-1,-0.35H1V0.35H-1Z", "filled": true, "size": 1849, "opacity": 1, "strokeWidth": 0, "yOffset": -5},
"encoding": {
"x": {"datum": "2025-04-14", "type": "ordinal"},
"y": {"field": "p", "type": "quantitative", "title": null},
"fill": {"field": "kind", "type": "nominal", "legend": null}
}
},
{
"data": {"name": "levels"},
"transform": [{"filter": "datum.p != 81.633"}],
"mark": {"type": "text", "color": "#ffffff", "fontSize": 10.5, "font": "Liberation Sans", "align": "center", "baseline": "middle"},
"encoding": {
"x": {"datum": "2025-04-14", "type": "ordinal"},
"y": {"field": "p", "type": "quantitative", "title": null},
"text": {"field": "p", "type": "quantitative", "format": ".3f"}
}
},
{
"data": {"name": "levels"},
"transform": [{"filter": "datum.p == 81.633"}],
"mark": {"type": "text", "color": "#ffffff", "fontSize": 10.5, "font": "Liberation Sans", "align": "center", "baseline": "middle", "yOffset": -5},
"encoding": {
"x": {"datum": "2025-04-14", "type": "ordinal"},
"y": {"field": "p", "type": "quantitative", "title": null},
"text": {"field": "p", "type": "quantitative", "format": ".3f"}
}
}
]
}
